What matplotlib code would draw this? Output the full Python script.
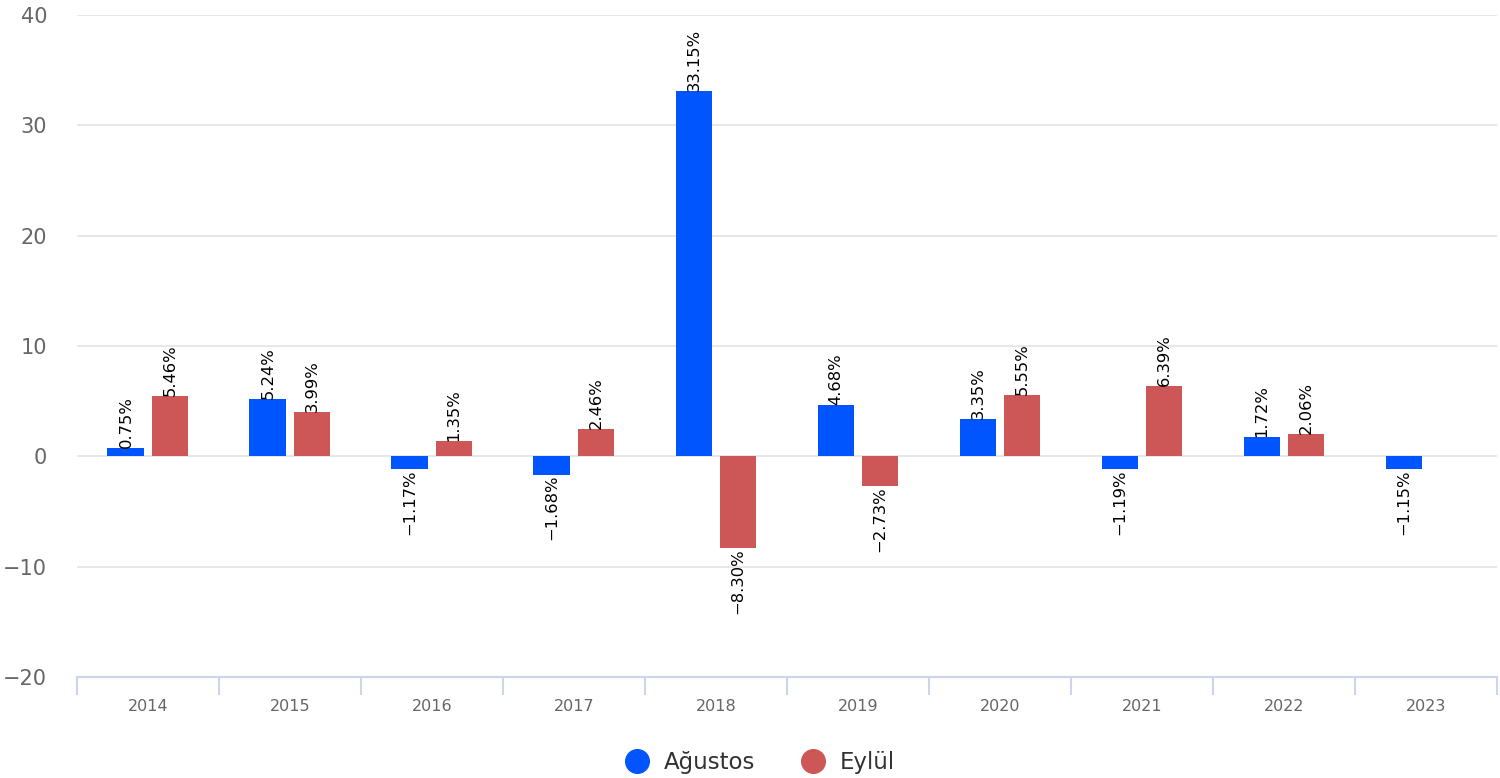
import matplotlib.pyplot as plt
import numpy as np

years = ['2014', '2015', '2016', '2017', '2018', '2019', '2020', '2021', '2022', '2023']
agustos = [0.75, 5.24, -1.17, -1.68, 33.15, 4.68, 3.35, -1.19, 1.72, -1.15]
eylul = [5.46, 3.99, 1.35, 2.46, -8.30, -2.73, 5.55, 6.39, 2.06, np.nan]

blue = '#0055ff'
red = '#cd5656'

fig = plt.figure(figsize=(15, 7.78), dpi=100)
ax = fig.add_axes([0.0513, 0.1298, 0.9467, 0.851])

x = np.arange(len(years))
w = 0.26
off = 0.155


def draw(vals, shift, color):
    for xi, v in zip(x, vals):
        if np.isnan(v):
            continue
        ax.bar(xi + shift, v, width=w, color=color, zorder=3)
        txt = f'{v:.2f}%'.replace('-', '\u2212')
        ax.text(xi + shift, v, txt, rotation=90, ha='center',
                va='bottom' if v >= 0 else 'top', fontsize=11.8,
                color='black', zorder=4)


draw(agustos, -off, blue)
draw(eylul, off, red)

ax.set_xlim(-0.5, len(years) - 0.5)
ax.set_ylim(-20, 40)
ax.set_yticks([-20, -10, 0, 10, 20, 30, 40])
ax.set_yticklabels(['\u221220', '\u221210', '0', '10', '20', '30', '40'])
ax.grid(axis='y', color='#e6e6e6', linewidth=1.3, zorder=0)

for s in ['top', 'right', 'left']:
    ax.spines[s].set_visible(False)
ax.spines['bottom'].set_color('#ccd6eb')
ax.spines['bottom'].set_linewidth(1.5)

ax.tick_params(axis='y', length=0, pad=21.5, labelsize=15, labelcolor='#666666')
ax.set_xticks(x)
ax.set_xticklabels(years)
ax.tick_params(axis='x', which='major', length=0, pad=16, labelsize=11.5, labelcolor='#666666')
ax.set_xticks(np.arange(len(years) + 1) - 0.5, minor=True)
ax.tick_params(axis='x', which='minor', length=13, width=1.5, color='#ccd6eb')

h1 = plt.Line2D([], [], marker='o', linestyle='', markersize=17, color=blue)
h2 = plt.Line2D([], [], marker='o', linestyle='', markersize=17, color=red)
fig.legend([h1, h2], ['Ağustos', 'Eylül'], loc='center', bbox_to_anchor=(0.503, 0.02),
           ncol=2, frameon=False, fontsize=16.5, labelcolor='#333333',
           handletextpad=0.2, columnspacing=1.5)

fig.savefig('out.png', dpi=100)
